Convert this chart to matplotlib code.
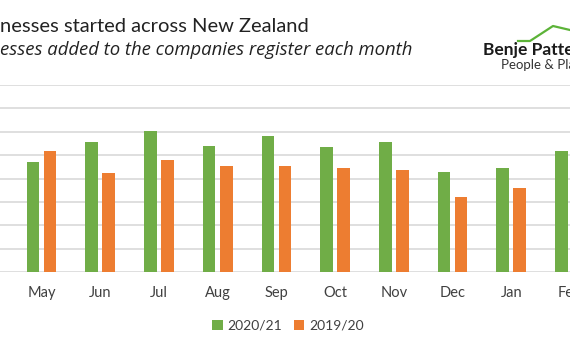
import numpy as np
import matplotlib
matplotlib.use('Agg')
import matplotlib.pyplot as plt
from matplotlib.lines import Line2D

months = ['May', 'Jun', 'Jul', 'Aug', 'Sep', 'Oct', 'Nov', 'Dec', 'Jan', 'Feb']
new_2021 = [4710, 5560, 6050, 5390, 5830, 5360, 5560, 4290, 4440, 5160]
# Feb 2019/20 bar is outside the visible crop
new_1920 = [5190, 4250, 4780, 4520, 4520, 4440, 4360, 3220, 3590, np.nan]
series = ['2020/21', '2019/20']
colors = ['#70AD47', '#ED7D31']

plt.rcParams['font.family'] = ['Lato', 'DejaVu Sans']

fig = plt.figure(figsize=(5.7, 3.5), dpi=100)
ax = fig.add_axes([0, 78 / 350, 1, 187 / 350])

x = np.arange(len(months))
w = 0.216
ax.bar(x - 0.145, new_2021, w, color=colors[0], label=series[0], zorder=3)
ax.bar(x + 0.145, new_1920, w, color=colors[1], label=series[1], zorder=3)

ax.set_xlim(-0.7065, 8.997)
ax.set_ylim(0, 8000)
ax.set_yticks(np.arange(0, 8001, 1000))
ax.grid(axis='y', color='#d9d9d9', linewidth=1.2, zorder=0)
for s in ax.spines.values():
    s.set_visible(False)
ax.set_xticks(x)
ax.set_xticklabels(months, fontsize=10.5, color='#404040')
ax.tick_params(axis='x', length=0, pad=10)
ax.tick_params(axis='y', length=0, labelleft=False)

# titles (left part is cropped in the reference)
fig.text(0, 1 - 27 / 350, 'nesses started across New Zealand', fontsize=14.5,
         color='#222222', va='center', ha='left')
fig.text(0, 1 - 50 / 350, 'esses added to the companies register each month',
         fontsize=13.3, style='italic', color='#222222', va='center', ha='left',
         family=['Open Sans', 'DejaVu Sans'])

# logo
fig.text(483 / 570, 1 - 50 / 350, 'Benje Patte', fontsize=12.5, weight='bold',
         color='#1a1a1a', va='center', ha='left')
fig.text(501 / 570, 1 - 65 / 350, 'People & Pla', fontsize=9.5,
         color='#333333', va='center', ha='left')
roof_x = np.array([518, 530, 553, 570]) / 570
roof_y = 1 - np.array([41, 41, 26, 30]) / 350
fig.add_artist(Line2D(roof_x, roof_y, color='#5cb338', linewidth=1.6,
                      transform=fig.transFigure))

fig.legend(loc='center', bbox_to_anchor=(288 / 570, 1 - 326 / 350), ncol=2,
           frameon=False, fontsize=10, handlelength=0.75, handleheight=0.75,
           handletextpad=0.35, columnspacing=0.8, labelcolor='#404040')

fig.savefig('out.png', dpi=100)
